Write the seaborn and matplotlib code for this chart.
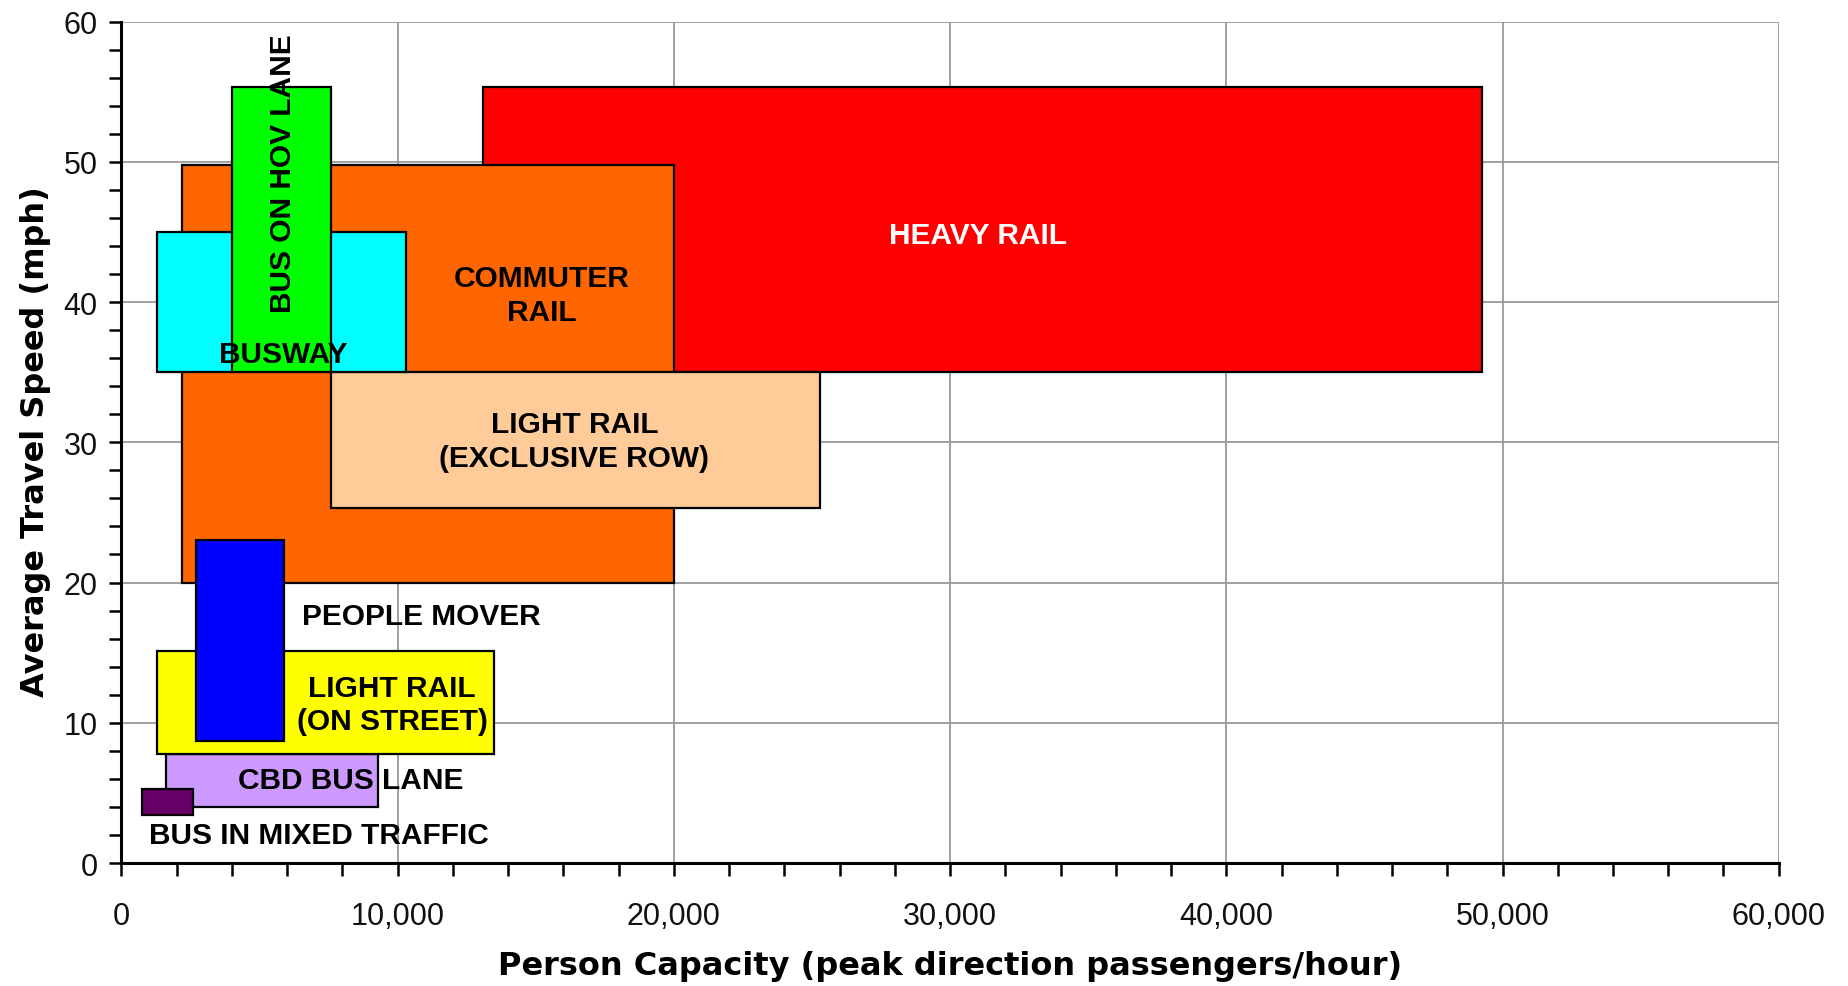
import matplotlib
matplotlib.use("Agg")
import matplotlib.pyplot as plt
import seaborn as sns
from matplotlib.ticker import MultipleLocator, FuncFormatter

# ---- data ----
modes = ["HEAVY RAIL", "COMMUTER RAIL", "LIGHT RAIL (EXCLUSIVE ROW)", "BUSWAY",
         "BUS ON HOV LANE", "CBD BUS LANE", "LIGHT RAIL (ON STREET)",
         "PEOPLE MOVER", "BUS IN MIXED TRAFFIC"]
cap_min = [13100, 2200, 7600, 1300, 4000, 1600, 1300, 2700, 750]
cap_max = [49250, 20000, 25300, 10300, 7600, 9300, 13500, 5900, 2600]
speed_min = [35.0, 20.0, 25.3, 35.0, 35.0, 4.0, 7.8, 8.7, 3.4]
speed_max = [55.3, 49.8, 35.0, 45.0, 55.3, 7.8, 15.1, 23.0, 5.3]
colors = ["#FF0000", "#FF6600", "#FFCC99", "#00FFFF", "#00FF00",
          "#CC99FF", "#FFFF00", "#0000FF", "#660066"]

x_ticks = [0, 10000, 20000, 30000, 40000, 50000, 60000]
y_ticks = [0, 10, 20, 30, 40, 50, 60]

# label layout: (text, x, y, ha, color, rotation)
labels = [
    ("HEAVY RAIL", 31000, 44.8, "center", "white", 0),
    ("COMMUTER\nRAIL", 15200, 40.5, "center", "black", 0),
    ("BUSWAY", 5850, 36.3, "center", "black", 0),
    ("BUS ON HOV LANE", 5850, 49.2, "center", "black", 90),
    ("LIGHT RAIL\n(EXCLUSIVE ROW)", 16400, 30.1, "center", "black", 0),
    ("PEOPLE MOVER", 6550, 17.6, "left", "black", 0),
    ("LIGHT RAIL\n(ON STREET)", 9800, 11.3, "center", "black", 0),
    ("CBD BUS LANE", 8300, 5.9, "center", "black", 0),
    ("BUS IN MIXED TRAFFIC", 1000, 2.0, "left", "black", 0),
]

sns.set_style("white")
plt.rcParams["font.family"] = ["Liberation Sans", "DejaVu Sans"]

fig = plt.figure(figsize=(18.49, 9.87), dpi=100)
ax = fig.add_axes([0.0657, 0.1246, 0.8963, 0.8526])

widths = [b - a for a, b in zip(cap_min, cap_max)]
heights = [b - a for a, b in zip(speed_min, speed_max)]
for i in range(len(modes)):
    ax.bar(cap_min[i], heights[i], width=widths[i], bottom=speed_min[i],
           align="edge", color=colors[i], edgecolor="black", linewidth=1.6,
           zorder=2 + i)

for txt, x, y, ha, col, rot in labels:
    ax.text(x, y, txt, ha=ha, va="center", color=col, rotation=rot,
            fontsize=21.5, fontweight="bold", linespacing=1.25, zorder=20)

ax.set_xlim(0, 60000)
ax.set_ylim(0, 60)
ax.set_xticks(x_ticks)
ax.set_yticks(y_ticks)
ax.xaxis.set_minor_locator(MultipleLocator(2000))
ax.yaxis.set_minor_locator(MultipleLocator(2))
ax.xaxis.set_major_formatter(FuncFormatter(lambda v, p: f"{int(v):,}"))
ax.grid(True, which="major", color="#999999", linewidth=1.3, zorder=0)
ax.set_axisbelow(True)

for s in ["top", "right"]:
    ax.spines[s].set_visible(False)
for s in ["left", "bottom"]:
    ax.spines[s].set_color("black")
    ax.spines[s].set_linewidth(2.2)
    ax.spines[s].set_zorder(30)

ax.tick_params(axis="x", which="both", direction="out", length=9, width=1.8,
               color="black", pad=18, labelsize=22, bottom=True,
               labelcolor="#111111")
ax.tick_params(axis="y", which="both", direction="out", length=9, width=1.8,
               color="black", pad=8, labelsize=22, left=True,
               labelcolor="#111111")

ax.set_xlabel("Person Capacity (peak direction passengers/hour)",
              fontsize=23, fontweight="bold", family="DejaVu Sans",
              color="black")
ax.set_ylabel("Average Travel Speed (mph)", fontsize=23, fontweight="bold",
              family="DejaVu Sans", color="black")
ax.xaxis.set_label_coords(0.5, -0.103)
ax.yaxis.set_label_coords(-0.0425, 0.5015)

fig.savefig("out.png", dpi=100, facecolor="white")
